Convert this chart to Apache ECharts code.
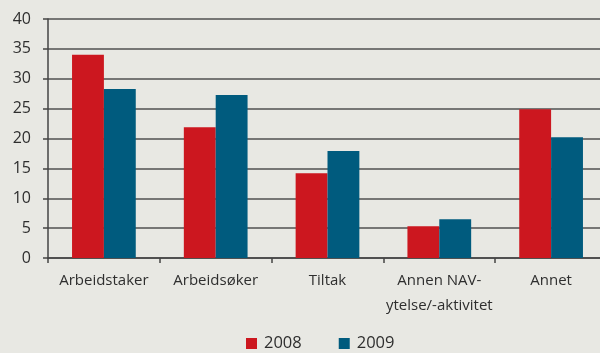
<!DOCTYPE html>
<html>
<head>
<meta charset="utf-8">
<script src="https://cdn.jsdelivr.net/npm/echarts@6/dist/echarts.min.js"></script>
<style>
  html, body { margin: 0; padding: 0; background: #e8e8e3; overflow: hidden; }
  #wrap { width: 600px; height: 353px; overflow: hidden; }
  #chart { width: 607px; height: 353px; }
</style>
</head>
<body>
<div id="wrap"><div id="chart"></div></div>
<script>
// Categories and yearly shares (percent)
const categories = ['Arbeidstaker', 'Arbeidsøker', 'Tiltak', 'Annen NAV-\nytelse/-aktivitet', 'Annet'];
const values2008 = [34.0, 21.9, 14.2, 5.3, 24.9];
const values2009 = [28.3, 27.3, 17.9, 6.5, 20.2];
const yTicks = [0, 5, 10, 15, 20, 25, 30, 35, 40];

const FONT = '"Open Sans", sans-serif';
const chart = echarts.init(document.getElementById('chart'), null, { renderer: 'canvas' });

chart.setOption({
  backgroundColor: '#e8e8e3',
  animation: false,
  grid: { left: 48, right: 0, top: 19, bottom: 95, containLabel: false },
  legend: {
    data: ['2008', '2009'],
    left: 246,
    top: 335,
    icon: 'rect',
    itemWidth: 11,
    itemHeight: 11,
    itemGap: 37,
    textStyle: { fontFamily: FONT, fontSize: 16.5, color: '#2e2e2e', padding: [0, 0, 0, 2] },
    padding: 0
  },
  xAxis: {
    type: 'category',
    data: categories,
    axisLine: { lineStyle: { color: '#444', width: 1.5 } },
    axisTick: { show: true, length: 5, lineStyle: { color: '#444', width: 1.5 } },
    axisLabel: {
      fontFamily: FONT, fontSize: 15, color: '#2e2e2e',
      margin: 10, lineHeight: 25, interval: 0
    }
  },
  yAxis: {
    type: 'value',
    min: yTicks[0],
    max: yTicks[yTicks.length - 1],
    interval: 5,
    axisLine: { show: true, lineStyle: { color: '#444', width: 1.5 } },
    axisTick: { show: true, length: 5, lineStyle: { color: '#444', width: 1.5 } },
    axisLabel: { fontFamily: FONT, fontSize: 16, color: '#2e2e2e', margin: 17 },
    splitLine: { show: true, lineStyle: { color: '#505050', width: 1.6 } }
  },
  series: [
    {
      name: '2008', type: 'bar', data: values2008,
      itemStyle: { color: '#cc171f' },
      barGap: '0%', barCategoryGap: '43%'
    },
    {
      name: '2009', type: 'bar', data: values2009,
      itemStyle: { color: '#005b7e' },
      barGap: '0%', barCategoryGap: '43%'
    }
  ]
});
</script>
</body>
</html>
